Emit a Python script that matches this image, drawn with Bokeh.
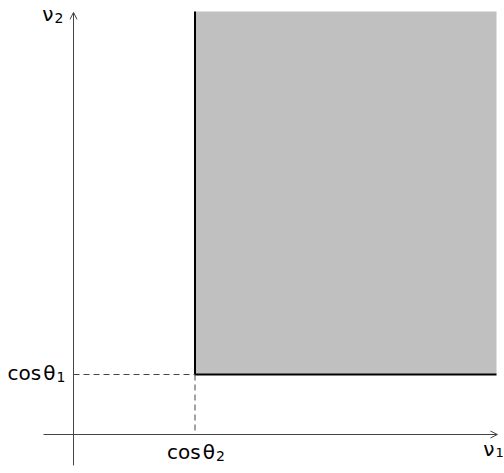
from bokeh.plotting import figure
from bokeh.models import Arrow, OpenHead, Range1d
from bokeh.core.properties import value
from bokeh.embed import file_html
from bokeh.resources import INLINE

# Data (arbitrary units)
cos_theta2 = 0.405  # threshold on nu_1
cos_theta1 = 0.20   # threshold on nu_2
upper = 1.41        # extent of the shaded region
x_label = ["cos\u200aθ"]
x_sub = ["2"]
y_label = ["cos\u200aθ"]
y_sub = ["1"]
axis_names = ["ν", "ν"]
axis_subs = ["1", "2"]

W, H = 504, 473
S = 300.0
p = figure(width=W, height=H, output_backend="svg", toolbar_location=None,
           x_range=Range1d(-73 / S, 431 / S), y_range=Range1d(-39 / S, 434 / S),
           x_axis_location=None, y_axis_location=None, min_border=0)
p.grid.visible = False
p.outline_line_color = None
p.background_fill_color = "white"

# shaded region
p.quad(left=[cos_theta2], right=[upper], bottom=[cos_theta1], top=[upper],
       fill_color="#c0c0c0", line_color=None)
# borders of region
p.line([cos_theta2, cos_theta2, upper], [upper, cos_theta1, cos_theta1],
       line_color="black", line_width=2)

# dashed guides
p.line([0, cos_theta2], [cos_theta1, cos_theta1], line_color="#444444",
       line_width=1, line_dash="6 4")
p.line([cos_theta2, cos_theta2], [cos_theta1, 0], line_color="#444444",
       line_width=1, line_dash="6 4")

# axes
ax_col = "#444444"
x_tip, y_tip = 1.413, 1.407
p.add_layout(Arrow(end=OpenHead(size=7, line_width=1, line_color=ax_col),
                   x_start=-0.10, y_start=0, x_end=x_tip, y_end=0,
                   line_color=ax_col, line_width=1))
p.add_layout(Arrow(end=OpenHead(size=7, line_width=1, line_color=ax_col),
                   x_start=0, y_start=-0.103, x_end=0, y_end=y_tip,
                   line_color=ax_col, line_width=1))

font = value("DejaVu Sans")
big, small = "20px", "14px"


def label(x, y, main, sub, dx, dy, sub_size=small):
    p.text(x=[x], y=[y], text=main, text_font=font, text_font_size=big,
           text_align="right", text_baseline="alphabetic",
           x_offset=dx, y_offset=dy, text_color="black")
    p.text(x=[x], y=[y], text=sub, text_font=font, text_font_size=sub_size,
           text_align="left", text_baseline="alphabetic",
           x_offset=dx + 1, y_offset=dy + 4, text_color="black")


label(cos_theta2, 0, x_label, x_sub, 20, 17)
label(0, cos_theta1, y_label, y_sub, -18, -2)
label(x_tip, 0, [axis_names[0]], [axis_subs[0]], -3, 14, "13px")
label(0, y_tip, [axis_names[1]], [axis_subs[1]], -20, 2)

open("out.html", "w").write(file_html(p, INLINE))
